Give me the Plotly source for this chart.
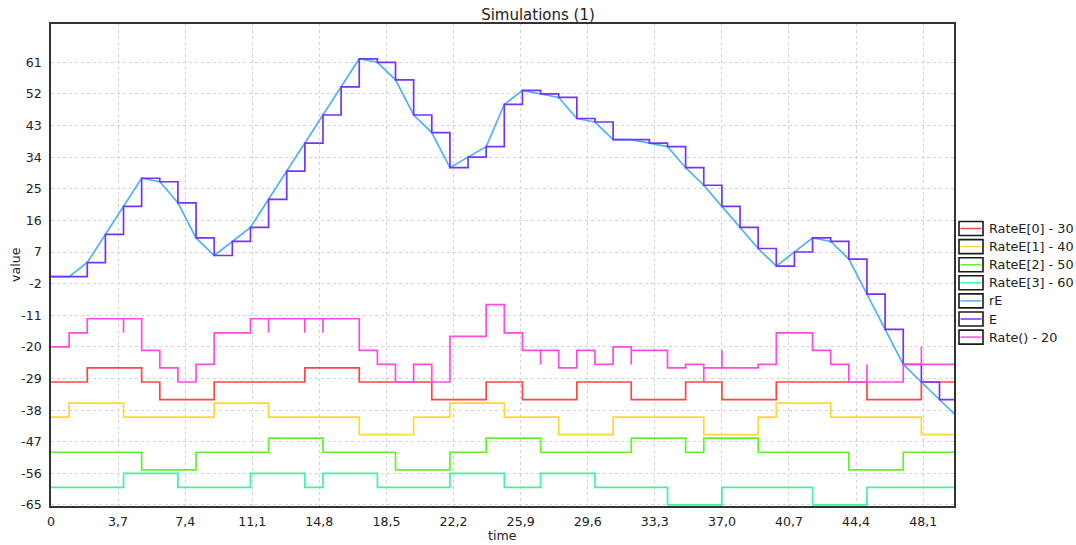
import plotly.graph_objects as go

# ---------------- data ----------------
time = [0, 1, 2, 3, 4, 5, 6, 7, 8, 9, 10, 11, 12, 13, 14, 15, 16, 17, 18, 19, 20,
        21, 22, 23, 24, 25, 26, 27, 28, 29, 30, 31, 32, 33, 34, 35, 36, 37, 38, 39, 40,
        41, 42, 43, 44, 45, 46, 47, 48, 49, 50]

rate_e0 = [-30, -30, -26, -26, -26, -30, -35, -35, -35, -30, -30, -30, -30, -30, -26, -26, -26,
           -30, -30, -30, -30, -35, -35, -35, -30, -30, -35, -35, -35, -30, -30, -30, -35, -35,
           -35, -30, -30, -35, -35, -35, -30, -30, -30, -30, -30, -35, -35, -35, -30, -30, -30]
rate_e1 = [-40, -36, -36, -36, -40, -40, -40, -40, -40, -36, -36, -36, -40, -40, -40, -40, -40,
           -45, -45, -45, -40, -40, -36, -36, -36, -40, -40, -40, -45, -45, -45, -40, -40, -40,
           -40, -40, -45, -45, -45, -40, -36, -36, -36, -40, -40, -40, -40, -40, -45, -45, -45]
rate_e2 = [-50, -50, -50, -50, -50, -55, -55, -55, -50, -50, -50, -50, -46, -46, -46, -50, -50,
           -50, -50, -55, -55, -55, -50, -50, -46, -46, -46, -50, -50, -50, -50, -50, -46, -46,
           -46, -50, -46, -46, -46, -50, -50, -50, -50, -50, -55, -55, -55, -50, -50, -50, -50]
rate_e3 = [-60, -60, -60, -60, -56, -56, -56, -60, -60, -60, -60, -56, -56, -56, -60, -56, -56,
           -56, -60, -60, -60, -60, -56, -56, -56, -60, -60, -56, -56, -56, -60, -60, -60, -60,
           -65, -65, -65, -60, -60, -60, -60, -60, -65, -65, -65, -60, -60, -60, -60, -60, -60]

e_vals = [0, 0, 4, 12, 20, 28, 27, 21, 11, 6, 10, 14, 22, 30, 38, 46, 54, 62, 61, 56, 46,
          41, 31, 34, 37, 49, 53, 52, 51, 45, 44, 39, 39, 38, 37, 31, 26, 20, 14, 8, 3,
          7, 11, 10, 5, -5, -15, -25, -30, -35, -40]
re_vals = [0, 0, 4, 12, 20, 28, 27, 21, 11, 6, 10, 14, 22, 30, 38, 46, 54, 62, 61, 56, 46,
           41, 31, 34, 37, 49, 53, 52, 51, 45, 44, 39, 39, 38, 37, 31, 26, 20, 14, 8, 3,
           7, 11, 10, 5, -5, -15, -25, -30, -35, -40]

# Rate() - 20, with the short transient spikes (repeated times)
rate_t = [0, 1, 2, 4, 4, 5, 6, 7, 8, 9, 11, 12, 12, 14, 14, 15, 15, 17, 18, 19, 20, 21,
          22, 24, 25, 26, 27, 27, 28, 29, 30, 31, 32, 32, 34, 35, 36, 36, 37, 37, 39, 40,
          42, 43, 44, 45, 45, 47, 48, 48, 50]
rate_v = [-20, -16, -12, -16, -12, -21, -26, -30, -25, -16, -12, -16, -12, -16, -12, -16, -12,
          -21, -25, -30, -25, -30, -17, -8, -16, -21, -25, -21, -26, -21, -25, -20, -25, -21,
          -26, -25, -30, -26, -21, -26, -25, -16, -21, -25, -30, -25, -30, -25, -20, -25, -25]

x_tick_vals = [0, 3.7, 7.4, 11.1, 14.8, 18.5, 22.2, 25.9, 29.6, 33.3, 37.0, 40.7, 44.4, 48.1]
x_tick_text = ["0", "3,7", "7,4", "11,1", "14,8", "18,5", "22,2", "25,9", "29,6", "33,3",
               "37,0", "40,7", "44,4", "48,1"]
y_tick_vals = [-65, -56, -47, -38, -29, -20, -11, -2, 7, 16, 25, 34, 43, 52, 61]
y_tick_text = ["-65", "-56", "-47", "-38", "-29", "-20", "-11", "-2", "7", "16", "25", "34",
               "43", "52", "61"]

series_names = ["RateE[0] - 30", "RateE[1] - 40", "RateE[2] - 50", "RateE[3] - 60",
                "rE", "E", "Rate() - 20"]
series_colors = ["#ff4646", "#ffd92e", "#62f22c", "#3ff59c", "#4fb2f7", "#7433ff", "#ff4be3"]

FONT = "DejaVu Sans"

fig = go.Figure()
lw = 1.7
for vals, name, col in zip([rate_e0, rate_e1, rate_e2, rate_e3], series_names[:4], series_colors[:4]):
    fig.add_trace(go.Scatter(x=time, y=vals, mode="lines", name=name,
                             line=dict(color=col, width=lw, shape="hv"), showlegend=False))
fig.add_trace(go.Scatter(x=time, y=re_vals, mode="lines", name=series_names[4],
                         line=dict(color=series_colors[4], width=lw), showlegend=False))
fig.add_trace(go.Scatter(x=time, y=e_vals, mode="lines", name=series_names[5],
                         line=dict(color=series_colors[5], width=lw, shape="hv"), showlegend=False))
fig.add_trace(go.Scatter(x=rate_t, y=rate_v, mode="lines", name=series_names[6],
                         line=dict(color=series_colors[6], width=lw, shape="hv"), showlegend=False))

# manual legend: boxed line samples + labels, to the right of the plot
shapes = []
annotations = []
for i, (name, col) in enumerate(zip(series_names, series_colors)):
    cy = -204.5 - 18.1 * i  # pixel offset from the top of the plotting area
    shapes.append(dict(type="rect", xref="paper", yref="paper", xsizemode="pixel", ysizemode="pixel",
                       xanchor=1, yanchor=1, x0=5, x1=29, y0=cy - 7, y1=cy + 7,
                       line=dict(color="#1a1a1a", width=1.6), fillcolor="white", layer="above"))
    shapes.append(dict(type="line", xref="paper", yref="paper", xsizemode="pixel", ysizemode="pixel",
                       xanchor=1, yanchor=1, x0=6.5, x1=27.5, y0=cy, y1=cy,
                       line=dict(color=col, width=1.5), layer="above"))
    annotations.append(dict(text=name, xref="paper", yref="paper", x=1, y=1, xshift=33,
                            yshift=cy, xanchor="left", yanchor="middle", showarrow=False,
                            font=dict(family=FONT, size=12.8, color="#222222")))

annotations.append(dict(text="value", xref="paper", yref="paper", x=0, y=0.5, xshift=-36,
                        textangle=-90, showarrow=False, xanchor="center", yanchor="middle",
                        font=dict(family=FONT, size=12.6, color="#222222")))
annotations.append(dict(text="time", xref="paper", yref="paper", x=0.5, y=0, yshift=-29,
                        showarrow=False, xanchor="center", yanchor="middle",
                        font=dict(family=FONT, size=12.6, color="#222222")))

grid = dict(showgrid=True, gridcolor="#d4d4d4", gridwidth=1, griddash="3px,3px")
fig.update_layout(
    width=1076, height=545,
    margin=dict(l=51, r=122, t=24, b=39),
    paper_bgcolor="white", plot_bgcolor="white",
    title=dict(text="Simulations (1)", x=0.5, xref="container", xanchor="center",
               y=1 - 15 / 545, yref="container", yanchor="middle",
               font=dict(family=FONT, size=15, color="#222222")),
    font=dict(family=FONT, size=12.6, color="#222222"),
    xaxis=dict(range=[0, 49.8], tickvals=x_tick_vals, ticktext=x_tick_text,
               showline=True, mirror=True, linecolor="#333333", linewidth=1.6,
               ticks="outside", ticklen=3, tickcolor="white", zeroline=False,
               tickfont=dict(family=FONT, size=12.6, color="#222222"), **grid),
    yaxis=dict(range=[-65.3, 71.9], tickvals=y_tick_vals, ticktext=y_tick_text,
               showline=True, mirror=True, linecolor="#333333", linewidth=1.6,
               ticks="outside", ticklen=5, tickcolor="white", zeroline=False,
               tickfont=dict(family=FONT, size=12.6, color="#222222"), **grid),
    shapes=shapes,
    annotations=annotations,
    showlegend=False,
)

fig.write_html("out.html",
               config={"displayModeBar": False},
               post_script="document.body.style.margin='0';document.body.style.padding='0';"
                           "document.body.style.overflow='hidden';")
